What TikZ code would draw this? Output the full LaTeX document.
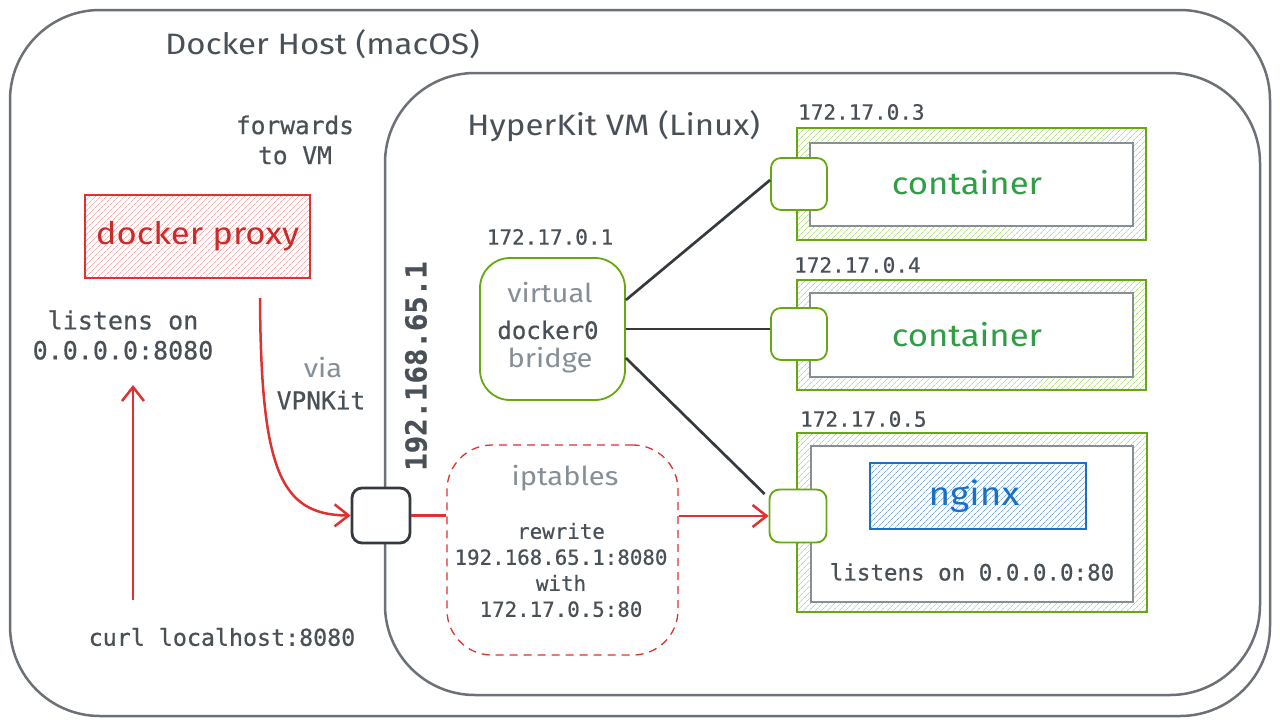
\documentclass[tikz,border=0pt]{standalone}
\usepackage{fontspec}
\setmonofont[FakeBold=0.6]{DejaVu Sans Mono}
\newfontfamily\hand[FakeStretch=1.12]{Fira Sans}
\usetikzlibrary{patterns.meta,arrows.meta,calc}
\definecolor{hostgray}{HTML}{6C7177}
\definecolor{txtgray}{HTML}{495057}
\definecolor{lgray}{HTML}{868E96}
\definecolor{grn}{HTML}{66A80F}
\definecolor{grnfill}{HTML}{B2E07A}
\definecolor{grntxt}{HTML}{2F9E44}
\definecolor{rd}{HTML}{E03131}
\definecolor{rdtxt}{HTML}{C92A2A}
\definecolor{rdfill}{HTML}{FFA8A8}
\definecolor{bl}{HTML}{1971C2}
\definecolor{blfill}{HTML}{74A8F0}
\definecolor{dark}{HTML}{343A40}
\begin{document}
\begin{tikzpicture}[x=1pt,y=-1pt,
  mono/.style={font=\ttfamily\fontsize{21}{26}\selectfont, text=txtgray, align=center, inner sep=0pt},
  handt/.style={font=\hand\fontsize{26}{30}\selectfont, inner sep=0pt},
  handbig/.style={font=\hand\fontsize{29.5}{32}\selectfont, inner sep=0pt},
  frame/.style={draw=hostgray, line width=2.5pt, rounded corners=90pt},
  port/.style={draw=grn, fill=white, line width=1.8pt, rounded corners=10pt, minimum width=56pt, minimum height=52pt, inner sep=0pt},
  hatchg/.style={pattern={Lines[angle=45,distance=4pt,line width=0.7pt]}, pattern color=grnfill, draw=grn, line width=1.5pt, inner sep=0pt},
  innerbox/.style={draw=lgray, fill=white, line width=1.5pt, inner sep=0pt},
  link/.style={draw=dark, line width=2.7pt},
  redarrow/.style={draw=rd, line width=2.5pt, -{Straight Barb[length=14pt,width=22pt,line width=2.5pt]}},
]
\useasboundingbox (0,0) rectangle (1280,726);
\fill[white] (0,0) rectangle (1280,726);

% frames
\draw[frame] (10,10) rectangle (1270,716);
\node[handbig, text=txtgray, anchor=west] (hosttitle) at (165,44) {Docker Host (macOS)};
\draw[frame] (385,73) rectangle (1260,695);
\node[handbig, text=txtgray, anchor=west] (vmtitle) at (467,126) {HyperKit VM (Linux)};

% left side
\node[mono, font=\ttfamily\fontsize{24.5}{30}\selectfont] (fwd) at (295,140) {forwards\\to VM};
\node[draw=rd, line width=1.5pt, pattern={Lines[angle=45,distance=4pt,line width=0.7pt]}, pattern color=rdfill, minimum width=225pt, minimum height=83pt, inner sep=0pt] (dproxy) at (197.5,236.5) {};
\node[handbig, font=\hand\fontsize{31}{34}\selectfont, text=rdtxt] at (dproxy.center) {docker proxy};
\node[mono, font=\ttfamily\fontsize{25}{30}\selectfont] (listen) at (123,335) {listens on\\0.0.0.0:8080};
\node[mono, font=\ttfamily\fontsize{23.3}{26}\selectfont] (curl) at (222,637) {curl localhost:8080};
\coordinate (upstart) at (133,600);
\coordinate (upend) at (133,385);
\draw[redarrow] (upstart) -- (upend);
\node[handt, text=lgray] (via) at (323,368) {via};
\node[mono, font=\ttfamily\fontsize{24.5}{26}\selectfont] (vpnkit) at (321,400) {VPNKit};

% host port
\node[draw=dark, fill=white, line width=2.8pt, rounded corners=10pt, minimum width=58pt, minimum height=55pt, inner sep=0pt] (hport) at (381,515.5) {};
\coordinate (curvestart) at (260,298);
\draw[redarrow] (curvestart) .. controls (261,470) and (280,515) .. (hport.west);
\node[mono, font=\ttfamily\bfseries\fontsize{29}{30}\selectfont, rotate=90] (vmip) at (416,366) {192.168.65.1};

% iptables
\node[draw=rd, dashed, dash pattern=on 8pt off 6pt, line width=1.3pt, rounded corners=45pt, minimum width=231pt, minimum height=210pt] (ipt) at (562.5,550) {};
\node[handt, text=lgray] (ipttitle) at (565,478) {iptables};
\node[mono, font=\ttfamily\fontsize{20.8}{26}\selectfont] (rule) at (561,570) {rewrite\\192.168.65.1:8080\\with\\172.17.0.5:80};
\draw[draw=rd, line width=2.5pt] (hport.east) -- (ipt.west |- hport.east);

% bridge
\node[draw=grn, fill=white, line width=1.8pt, rounded corners=30pt, minimum width=145pt, minimum height=142pt] (bridge) at (552.5,329) {};
\node[mono] (brip) at (550,237) {172.17.0.1};
\node[handt, text=lgray] (virt) at (550,293) {virtual};
\node[mono, font=\ttfamily\fontsize{24}{26}\selectfont] (d0) at (548,330) {docker0};
\node[handt, text=lgray] (bridgew) at (550,360) {bridge};

% containers
\node[hatchg, minimum width=349pt, minimum height=112pt] (c1) at (971.5,184) {};
\node[innerbox, minimum width=323pt, minimum height=83pt] (c1i) at (971.5,184.5) {};
\node[handbig, font=\hand\fontsize{31}{34}\selectfont, text=grntxt] at (967,183) {container};
\node[mono, anchor=west] (ip3) at (798,112) {172.17.0.3};

\node[hatchg, minimum width=349pt, minimum height=110pt] (c2) at (971.5,335) {};
\node[innerbox, minimum width=323pt, minimum height=84pt] (c2i) at (971.5,335) {};
\node[handbig, font=\hand\fontsize{31}{34}\selectfont, text=grntxt] at (967,335) {container};
\node[mono, anchor=west] (ip4) at (794,265) {172.17.0.4};

\node[hatchg, minimum width=350pt, minimum height=179pt] (c3) at (972,522.5) {};
\node[innerbox, minimum width=322pt, minimum height=156pt] (c3i) at (972,524) {};
\node[draw=bl, line width=1.5pt, pattern={Lines[angle=45,distance=4pt,line width=0.7pt]}, pattern color=blfill, minimum width=216pt, minimum height=66pt, inner sep=0pt] (nginx) at (978,496) {};
\node[handbig, font=\hand\fontsize{33}{36}\selectfont, text=bl] at (974,496) {nginx};
\node[mono, font=\ttfamily\fontsize{22.5}{26}\selectfont] (listen80) at (972,572) {listens on 0.0.0.0:80};
\node[mono, anchor=west] (ip5) at (800,419) {172.17.0.5};

% ports
\node[port] (p1) at (799,184) {};
\node[port] (p2) at (799,334) {};
\node[port, minimum width=57pt, minimum height=53pt] (p3) at (798,516) {};

% links
\draw[link] ($(bridge.east)+(0,-29)$) -- ($(p1.west)+(0,-4)$);
\draw[link] (bridge.east) -- (bridge.east -| p2.west);
\draw[link] ($(bridge.east)+(0,29)$) -- ($(p3.west)+(-4,-22)$);
\draw[redarrow] (ipt.east |- p3.west) -- (p3.west);
\end{tikzpicture}
\end{document}
